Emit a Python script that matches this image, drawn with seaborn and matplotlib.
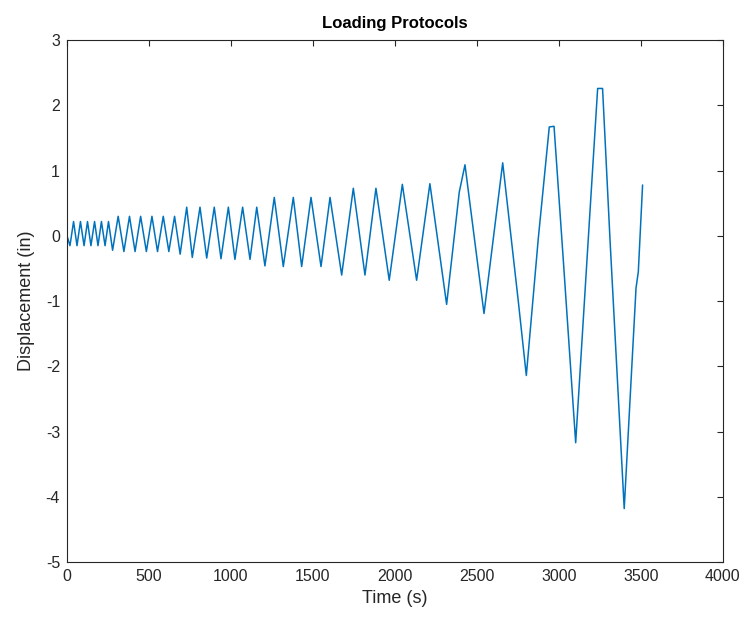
import pandas as pd
import seaborn as sns
import matplotlib.pyplot as plt

# Turning points of the loading history
time_s = [0, 18, 40, 61, 82, 104, 125, 146, 168, 189, 210, 232, 253,
          278, 312, 347, 381, 415, 449, 484, 518, 552, 587, 621, 656, 690,
          730, 764, 811, 852, 898, 939, 984, 1024, 1071, 1116, 1157, 1207,
          1264, 1319, 1380, 1431, 1488, 1549, 1604, 1675,
          1746, 1817, 1884, 1965, 2045, 2132, 2213,
          2315, 2392, 2427, 2543, 2657, 2752, 2801,
          2874, 2941, 2970, 3026, 3102,
          3179, 3236, 3266, 3311, 3398, 3470, 3484, 3510]
disp_in = [0, -0.15, 0.22, -0.15, 0.22, -0.15, 0.22, -0.15, 0.22, -0.15, 0.22, -0.15, 0.22,
           -0.22, 0.30, -0.24, 0.30, -0.24, 0.30, -0.24, 0.30, -0.24, 0.30, -0.24, 0.30, -0.28,
           0.44, -0.33, 0.44, -0.34, 0.44, -0.35, 0.44, -0.36, 0.44, -0.36, 0.44, -0.46,
           0.59, -0.47, 0.59, -0.47, 0.59, -0.47, 0.59, -0.60,
           0.73, -0.60, 0.73, -0.68, 0.79, -0.68, 0.80,
           -1.05, 0.67, 1.09, -1.19, 1.12, -1.0, -2.14,
           -0.04, 1.67, 1.68, -0.35, -3.17,
           -0.04, 2.26, 2.26, -0.04, -4.18, -0.8, -0.55, 0.78]

df = pd.DataFrame({'Time (s)': time_s, 'Displacement (in)': disp_in})

sns.set_style('white')
plt.rcParams['font.family'] = ['Liberation Sans', 'DejaVu Sans']
plt.rcParams['axes.unicode_minus'] = False
text_col = '#262626'

fig = plt.figure(figsize=(7.42, 6.28), dpi=100)
ax = fig.add_axes([0.0903, 0.105, 0.884, 0.831])
sns.lineplot(data=df, x='Time (s)', y='Displacement (in)', ax=ax,
             color='#0072BD', linewidth=1.1, estimator=None, sort=False)

ax.set_xlim(0, 4000)
ax.set_ylim(-5, 3)
ax.set_xticks(range(0, 4001, 500))
ax.set_yticks(range(-5, 4))
ax.tick_params(direction='in', length=4, width=0.8, top=True, right=True,
               labelsize=11.5, colors=text_col, pad=5)
for s in ax.spines.values():
    s.set_color(text_col)
    s.set_linewidth(0.8)
ax.set_title('Loading Protocols', fontsize=12, fontweight='bold', color='black', pad=9)
ax.set_xlabel('Time (s)', fontsize=13, color=text_col)
ax.set_ylabel('Displacement (in)', fontsize=13, color=text_col, labelpad=8)

plt.savefig('out.png', dpi=100)
